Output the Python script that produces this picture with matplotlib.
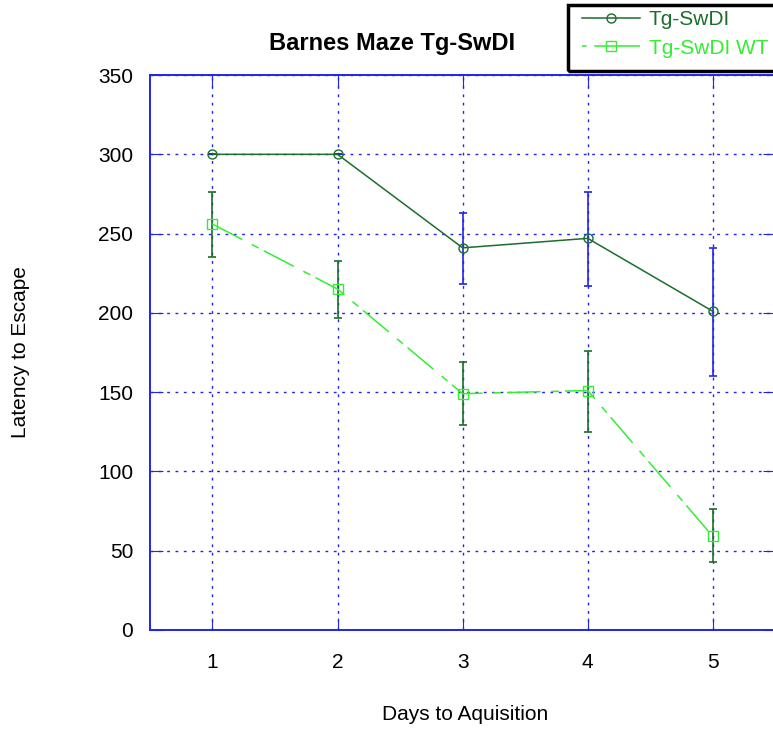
import numpy as np
import matplotlib
matplotlib.use("Agg")
import matplotlib.pyplot as plt
from matplotlib.patches import Rectangle

plt.rcParams["font.family"] = ["Liberation Sans", "DejaVu Sans"]

# Data
days = [1, 2, 3, 4, 5]
tg_mean = [300, 300, 241, 247, 201]
tg_err_lo = [0, 0, 23, 30, 41]
tg_err_hi = [0, 0, 22, 29, 40]
wt_mean = [256, 215, 149, 151, 59]
wt_err_lo = [21, 18, 20, 26, 16]
wt_err_hi = [20, 18, 20, 25, 17]

dark_green = "#1b6e2c"
light_green = "#33ee33"
grid_blue = "#2222ee"

fig = plt.figure(figsize=(7.73, 7.29), dpi=100)
ax = fig.add_axes([0.194, 0.136, 0.809, 0.761])

# Error bars (Tg in blue, WT in dark green)
ax.errorbar(days, tg_mean, yerr=[tg_err_lo, tg_err_hi], fmt="none",
            ecolor=grid_blue, elinewidth=1.2, capsize=3, capthick=1.2, zorder=3)
ax.errorbar(days, wt_mean, yerr=[wt_err_lo, wt_err_hi], fmt="none",
            ecolor=dark_green, elinewidth=1.2, capsize=3, capthick=1.2, zorder=3)

# Mean lines
ax.plot(days, tg_mean, "-", color=dark_green, lw=1.1, marker="o",
        markersize=6.5, markerfacecolor="none", markeredgecolor=dark_green,
        label="Tg-SwDI", zorder=4)
ax.plot(days, wt_mean, color=light_green, lw=1.1, dashes=(22, 7, 5, 4),
        marker="s", markersize=7.7, markerfacecolor="none",
        markeredgecolor=light_green, label="Tg-SwDI WT", zorder=4)

ax.set_xlim(0.5, 5.5)
ax.set_ylim(0, 350)
ax.set_xticks(days)
ax.set_yticks(np.arange(0, 351, 50))

ax.grid(True, color=grid_blue, linestyle=(0, (2, 4)), linewidth=1.0)
for s in ax.spines.values():
    s.set_color(grid_blue)
    s.set_linewidth(1.4)
ax.tick_params(direction="in", length=9, color=grid_blue, top=True, right=True,
               labelsize=15)
ax.tick_params(axis="x", pad=17)
ax.tick_params(axis="y", pad=12)

fig.text(0.602, 0.020, "Days to Aquisition", ha="center", va="center", fontsize=15)
fig.text(0.026, 0.517, "Latency to Escape", ha="center", va="center",
         rotation=90, fontsize=15)
fig.text(0.507, 0.941, "Barnes Maze Tg-SwDI", ha="center", va="center",
         fontsize=17, fontweight="bold")

# Legend box sticks out past the right edge, like the reference
fig.patches.append(Rectangle((568 / 773, 1 - 71 / 729), 0.3, 66 / 729,
                             transform=fig.transFigure, fill=False,
                             edgecolor="black", linewidth=2.5, zorder=5))
leg = fig.legend(loc="upper left", bbox_to_anchor=(0.753, 0.986),
                 fontsize=15, labelcolor="linecolor", frameon=False,
                 handlelength=2.8, borderpad=0, labelspacing=0.45,
                 handletextpad=0.4, borderaxespad=0)
leg.get_lines()[1].set_linestyle((0, (3, 5, 60, 1)))

fig.savefig("out.png", dpi=100)
